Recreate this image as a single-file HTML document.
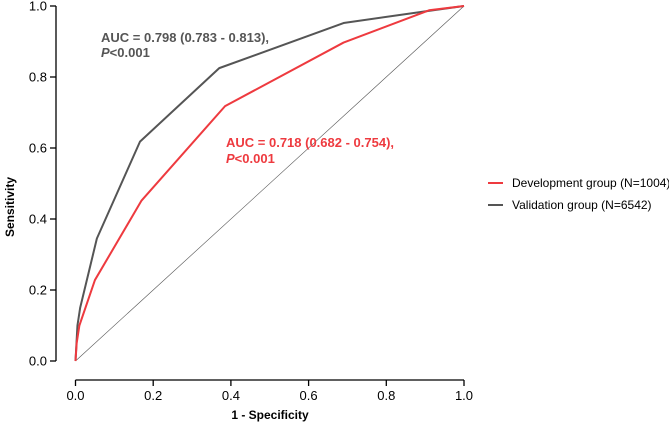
<!DOCTYPE html>
<html><head><meta charset="utf-8"><style>
body{margin:0;background:#fff;}
svg{display:block;font-family:"Liberation Sans",Arial,sans-serif;}
</style></head><body>
<svg id="c" width="669" height="426"></svg>
<script>
const xTicks=[0,0.2,0.4,0.6,0.8,1.0];
const yTicks=[0,0.2,0.4,0.6,0.8,1.0];
const tickLabels=["0.0","0.2","0.4","0.6","0.8","1.0"];
const devFpr=[0,0.003,0.01,0.05,0.17,0.385,0.69,0.91,1];
const devTpr=[0,0.05,0.1,0.228,0.452,0.718,0.897,0.988,1];
const valFpr=[0,0.005,0.012,0.055,0.166,0.37,0.69,0.9,1];
const valTpr=[0,0.1,0.15,0.345,0.618,0.825,0.952,0.985,1];
const NS="http://www.w3.org/2000/svg";
const svg=document.getElementById('c');
const X=v=>75.5+v*388.5, Y=v=>361-v*355;
function mk(t,a,p){const e=document.createElementNS(NS,t);for(const k in a)e.setAttribute(k,a[k]);(p||svg).appendChild(e);return e;}
let ya=mk('line',{x1:56,y1:Y(1),x2:56,y2:Y(0),stroke:'#000','stroke-width':1.3});


let xa=mk('line',{x1:X(0),y1:380,x2:X(1),y2:380,stroke:'#000','stroke-width':1.3});


yTicks.forEach((v,i)=>{
  mk('line',{x1:50,y1:Y(v),x2:56,y2:Y(v),stroke:'#000','stroke-width':1.3});
  const t=mk('text',{x:47,y:Y(v)+4.5,'text-anchor':'end','font-size':13,fill:'#000'});t.textContent=tickLabels[i];
  
  
});
xTicks.forEach((v,i)=>{
  mk('line',{x1:X(v),y1:380,x2:X(v),y2:386,stroke:'#000','stroke-width':1.3});
  const t=mk('text',{x:X(v),y:400,'text-anchor':'middle','font-size':13,fill:'#000'});t.textContent=tickLabels[i];
  
  
});
let ref=mk('line',{x1:X(0),y1:Y(0),x2:X(1),y2:Y(1),stroke:'#555','stroke-width':0.6});


function line(f,t,c,n){const p=mk('polyline',{points:f.map((v,i)=>X(v)+','+Y(t[i])).join(' '),fill:'none',stroke:c,'stroke-width':2,'stroke-linejoin':'round'});
  
  }
line(valFpr,valTpr,'#555555','validation-curve');
line(devFpr,devTpr,'#ee3a3f','development-curve');
</script>
<svg width="669" height="426" style="position:absolute;left:0;top:0;font-family:'Liberation Sans',Arial,sans-serif;">
<g font-weight="bold" font-size="13">
<text x="101" y="42" fill="#555">AUC = 0.798 (0.783 - 0.813),</text>
<text x="101" y="57" fill="#555"><tspan font-style="italic">P</tspan>&lt;0.001</text>
<text x="226" y="147" fill="#ee3a3f">AUC = 0.718 (0.682 - 0.754),</text>
<text x="226" y="163" fill="#ee3a3f"><tspan font-style="italic">P</tspan>&lt;0.001</text>
<text x="14" y="207" transform="rotate(-90 14 207)" text-anchor="middle" fill="#000" font-size="12">Sensitivity</text>
<text x="270" y="419" text-anchor="middle" fill="#000" font-size="12">1 - Specificity</text>
</g>
<g font-size="12">
<line x1="488" y1="183" x2="503" y2="183" stroke="#ee3a3f" stroke-width="2"/>
<text x="512" y="187" fill="#000">Development group (N=1004)</text>
<line x1="488" y1="205" x2="503" y2="205" stroke="#555" stroke-width="2"/>
<text x="512" y="209" fill="#000">Validation group (N=6542)</text>
</g>
</svg>
</body></html>
